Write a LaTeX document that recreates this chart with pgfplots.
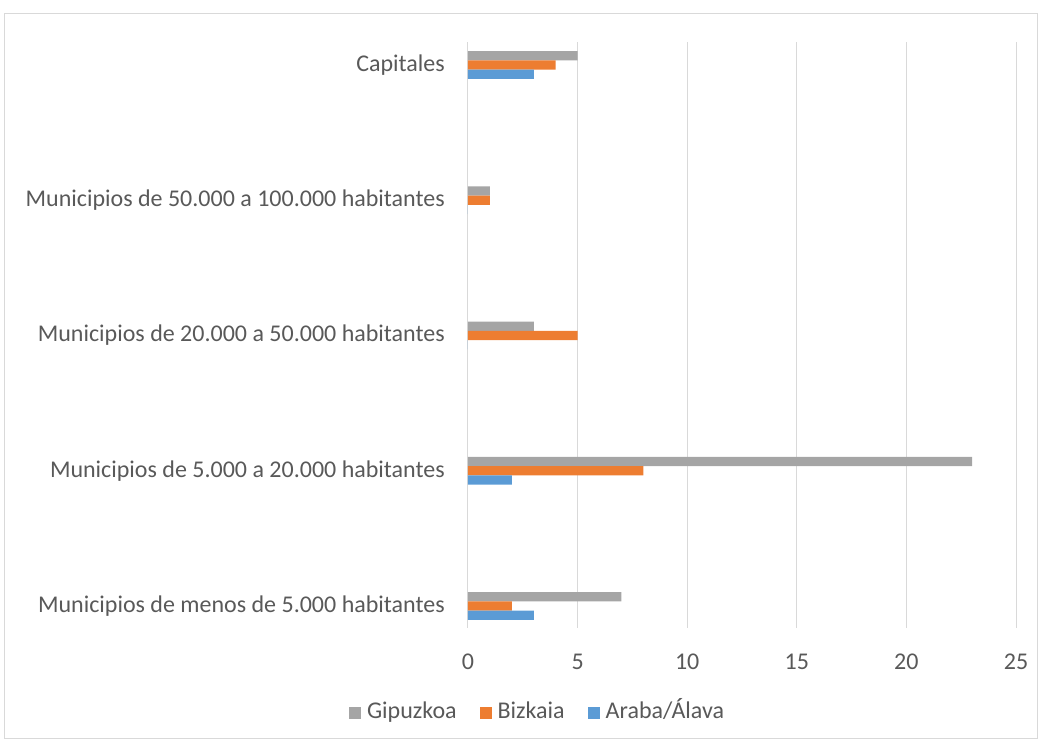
\documentclass[border=0pt]{standalone}
\usepackage{pgfplots}
\pgfplotsset{compat=1.18}
\usepackage{fontspec}
\setmainfont{Carlito}
\definecolor{gip}{HTML}{A5A5A5}
\definecolor{biz}{HTML}{ED7D31}
\definecolor{ara}{HTML}{5B9BD5}
\definecolor{gridc}{HTML}{D9D9D9}
\definecolor{txt}{HTML}{595959}
\begin{document}
\begin{tikzpicture}
\useasboundingbox (0pt,0pt) rectangle (1042pt,743pt);
\draw[gridc, line width=0.9pt] (4pt,5pt) rectangle (1037pt,730pt);
\begin{axis}[
  at={(468pt,115pt)}, anchor=south west,
  scale only axis, width=548pt, height=586pt,
  xmin=0, xmax=25, ymin=-0.1627, ymax=4.170,
  xbar, bar width=9.3pt,
  axis line style={draw=none},
  xtick={0,5,10,15,20,25},
  ytick={0,1,2,3,4},
  yticklabels={Municipios de menos de 5.000 habitantes,
               Municipios de 5.000 a 20.000 habitantes,
               Municipios de 20.000 a 50.000 habitantes,
               Municipios de 50.000 a 100.000 habitantes,
               Capitales},
  xmajorgrids, grid style={gridc, line width=1pt},
  major tick length=0pt,
  /pgf/number format/assume math mode=true,
  tick label style={font=\fontsize{24}{27}\selectfont, text=txt},
  xticklabel style={anchor=north, inner sep=0pt, yshift=-26pt},
  yticklabel style={anchor=east, inner sep=0pt, xshift=-23pt},
  legend style={draw=none, at={(axis description cs:0.126,-0.145)}, anchor=center,
    font=\fontsize{24}{27}\selectfont, text=txt,
    nodes={inner sep=1pt, text height=17pt, text depth=5pt},
    /tikz/every odd column/.append style={column sep=5pt},
    /tikz/every even column/.append style={column sep=22pt}},
  legend columns=3,
  legend image code/.code={\fill[#1] (0pt,-6pt) rectangle (12pt,6pt);},
]
\addplot[fill=gip, draw=none, bar shift=9.3pt] coordinates {(7,0) (23,1) (3,2) (1,3) (5,4)};
\addplot[fill=biz, draw=none, bar shift=0pt] coordinates {(2,0) (8,1) (5,2) (1,3) (4,4)};
\addplot[fill=ara, draw=none, bar shift=-9.3pt] coordinates {(3,0) (2,1) (0,2) (0,3) (3,4)};
\legend{Gipuzkoa, Bizkaia, Araba/Álava}
\end{axis}
\end{tikzpicture}
\end{document}
